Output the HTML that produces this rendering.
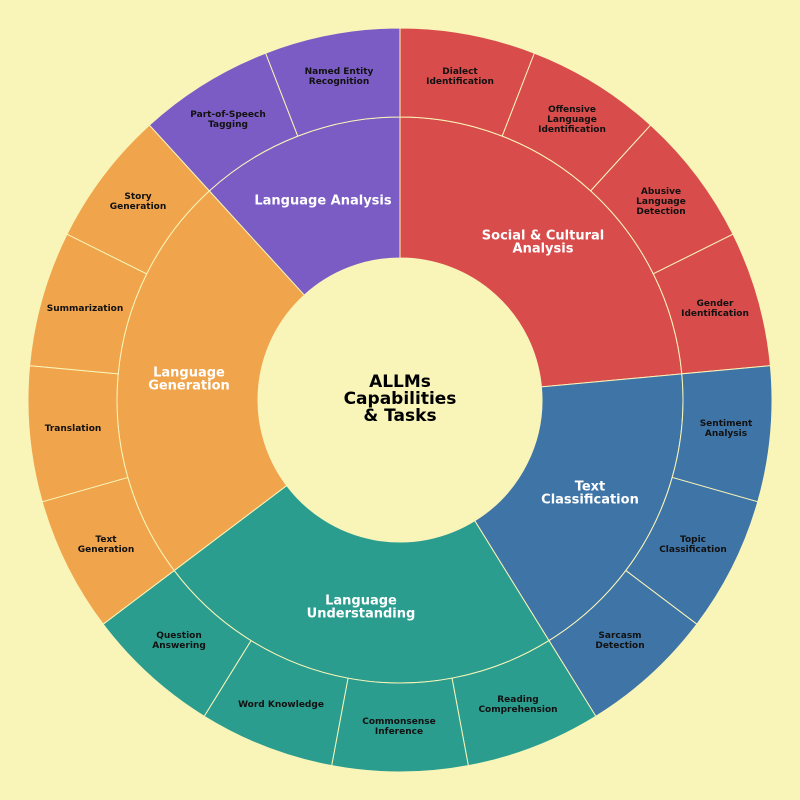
<!DOCTYPE html>
<html><head><meta charset="utf-8"><style>
html,body{margin:0;padding:0;background:#f9f5b9;}
svg{display:block;}
text{font-family:"DejaVu Sans","Liberation Sans",sans-serif;font-weight:bold;text-anchor:middle;dominant-baseline:central;}
.l{font-size:9px;fill:#111;}
.m{font-size:13px;fill:#fff;}
.c{font-size:17px;fill:#000;}
</style></head><body>
<svg id="s" width="800" height="800" viewBox="0 0 800 800" xmlns="http://www.w3.org/2000/svg">
<rect width="800" height="800" fill="#f9f5b9"/>
<g id="arcs"></g>
<text class="c" x="400" y="382">ALLMs</text>
<text class="c" x="400" y="399">Capabilities</text>
<text class="c" x="400" y="416">&amp; Tasks</text>
<text class="m" x="543" y="236">Social &amp; Cultural</text>
<text class="m" x="543" y="249">Analysis</text>
<text class="m" x="590" y="487">Text</text>
<text class="m" x="590" y="500">Classification</text>
<text class="m" x="361" y="601">Language</text>
<text class="m" x="361" y="614">Understanding</text>
<text class="m" x="189" y="373">Language</text>
<text class="m" x="189" y="386">Generation</text>
<text class="m" x="323" y="201">Language Analysis</text>
<text class="l" x="460" y="72">Dialect</text><text class="l" x="460" y="82">Identification</text>
<text class="l" x="572" y="110">Offensive</text><text class="l" x="572" y="120">Language</text><text class="l" x="572" y="130">Identification</text>
<text class="l" x="661" y="192">Abusive</text><text class="l" x="661" y="202">Language</text><text class="l" x="661" y="212">Detection</text>
<text class="l" x="715" y="304">Gender</text><text class="l" x="715" y="314">Identification</text>
<text class="l" x="726" y="424">Sentiment</text><text class="l" x="726" y="434">Analysis</text>
<text class="l" x="693" y="540">Topic</text><text class="l" x="693" y="550">Classification</text>
<text class="l" x="620" y="636">Sarcasm</text><text class="l" x="620" y="646">Detection</text>
<text class="l" x="518" y="700">Reading</text><text class="l" x="518" y="710">Comprehension</text>
<text class="l" x="399" y="722">Commonsense</text><text class="l" x="399" y="732">Inference</text>
<text class="l" x="281" y="705">Word Knowledge</text>
<text class="l" x="179" y="636">Question</text><text class="l" x="179" y="646">Answering</text>
<text class="l" x="106" y="540">Text</text><text class="l" x="106" y="550">Generation</text>
<text class="l" x="73" y="429">Translation</text>
<text class="l" x="85" y="309">Summarization</text>
<text class="l" x="138" y="197">Story</text><text class="l" x="138" y="207">Generation</text>
<text class="l" x="228" y="115">Part-of-Speech</text><text class="l" x="228" y="125">Tagging</text>
<text class="l" x="339" y="72">Named Entity</text><text class="l" x="339" y="82">Recognition</text>
</svg>
<script>
(function(){
var g=document.getElementById('arcs'),cx=400,cy=400,u=360/17;
function pt(r,a){var t=a*Math.PI/180;return [cx+r*Math.sin(t),cy-r*Math.cos(t)];}
function arc(r0,r1,a0,a1,col){
 var p1=pt(r1,a0),p2=pt(r1,a1),p3=pt(r0,a1),p4=pt(r0,a0),lg=(a1-a0)>180?1:0;
 var d='M'+p1+' A'+r1+' '+r1+' 0 '+lg+' 1 '+p2+' L'+p3+' A'+r0+' '+r0+' 0 '+lg+' 0 '+p4+'Z';
 var e=document.createElementNS('http://www.w3.org/2000/svg','path');
 e.setAttribute('d',d);e.setAttribute('fill',col);e.setAttribute('stroke','#f9f5b9');e.setAttribute('stroke-width','1');
 g.appendChild(e);}
var groups=[[4,'#d94c4c'],[3,'#3f74a6'],[4,'#2a9d8f'],[4,'#f0a44b'],[2,'#7b5cc4']];
var a=0;
groups.forEach(function(gr){
 arc(142,283,a*u,(a+gr[0])*u,gr[1]);
 for(var i=0;i<gr[0];i++)arc(283,372,(a+i)*u,(a+i+1)*u,gr[1]);
 a+=gr[0];});
})();
</script>
</body></html>
